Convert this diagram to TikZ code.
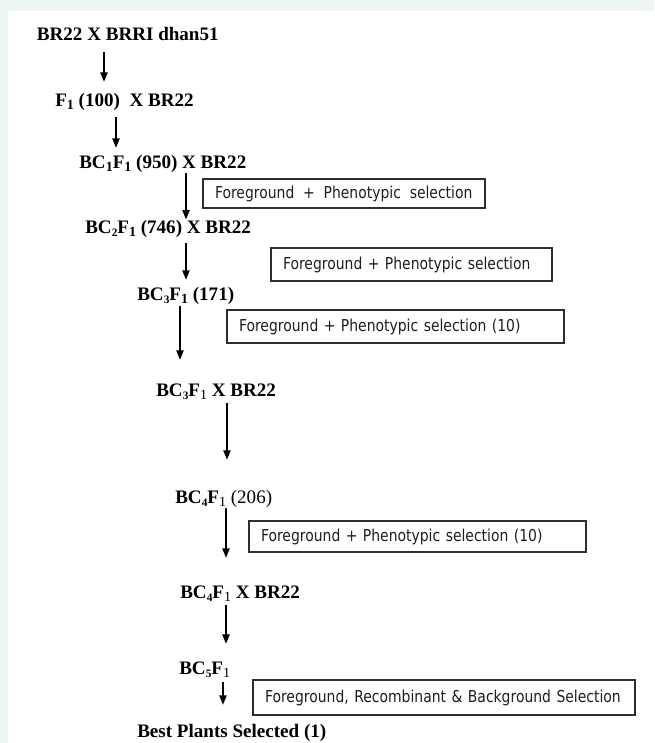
\documentclass[tikz,border=0pt]{standalone}
\usepackage{fontspec}
\setmainfont{Liberation Serif}
\newfontfamily\boxfont[FakeStretch=0.85]{DejaVu Sans}
\usetikzlibrary{arrows.meta}
\definecolor{mint}{RGB}{238,246,243}
\definecolor{boxline}{RGB}{45,45,45}
\definecolor{boxtext}{RGB}{30,30,30}
\newcommand{\sbb}[1]{\raisebox{-0.35ex}{\fontsize{10.5}{10}\selectfont\bfseries #1}}
\newcommand{\sbs}[1]{\raisebox{-0.35ex}{\fontsize{8.5}{10}\selectfont\bfseries #1}}
\newcommand{\sbr}[1]{\raisebox{-0.35ex}{\fontsize{10.5}{10}\selectfont\mdseries #1}}
\begin{document}
\begin{tikzpicture}[x=0.75pt,y=-0.75pt,
  lab/.style={anchor=base west, inner sep=0pt, text height=10pt, text depth=3pt,
    font=\fontsize{14.3}{16}\selectfont\bfseries},
  selbox/.style={draw=boxline, line width=0.8pt, inner xsep=9pt, inner ysep=0pt,
    align=left, text=boxtext, font=\boxfont\fontsize{12.3}{14}\selectfont},
  arr/.style={-{Triangle[length=7pt,width=5.5pt]}, line width=0.9pt}]
\useasboundingbox (0,0) rectangle (654,743);
\fill[mint] (0,0) rectangle (654,743);
\fill[white] (8,11) rectangle (654,743);

% labels
\node[lab] (t1) at (36.7,40) {BR22 X BRRI dhan51};
\node[lab] (t2) at (55,106) {F\sbb{1} (100)\ \ X BR22};
\node[lab] (t3) at (79,168) {BC\sbb{1}F\sbb{1} (950) X BR22};
\node[lab] (t4) at (85,233) {BC\sbs{2}F\sbb{1} (746) X BR22};
\node[lab] (t5) at (137,300) {BC\sbs{3}F\sbb{1} (171)};
\node[lab] (t6) at (156,396) {BC\sbs{3}F\sbr{1} X BR22};
\node[lab] (t7) at (175,503) {BC\sbs{4}F\sbr{1} {\mdseries(206)}};
\node[lab] (t8) at (180,598) {BC\sbs{4}F\sbr{1} X BR22};
\node[lab] (t9) at (179,674) {BC\sbs{5}F\sbr{1}};
\node[lab] (t10) at (137,737) {Best Plants Selected (1)};

% selection boxes
\node[selbox, minimum width=211.5pt, minimum height=21.75pt, text width=193.5pt] (b1) at (344,193.5)
  {\mbox{Foreground \hspace{2.5pt}+ \hspace{2.5pt}Phenotypic \hspace{2.5pt}selection}};
\node[selbox, minimum width=210.75pt, minimum height=24.75pt, text width=192.75pt] (b2) at (411.5,264.5)
  {\mbox{Foreground + Phenotypic selection}};
\node[selbox, minimum width=252.75pt, minimum height=24.75pt, text width=234.75pt] (b3) at (395.5,326.5)
  {\mbox{Foreground + Phenotypic selection (10)}};
\node[selbox, minimum width=252.75pt, minimum height=23.25pt, text width=234.75pt] (b4) at (417.5,536.5)
  {\mbox{Foreground + Phenotypic selection (10)}};
\node[selbox, minimum width=286.5pt, minimum height=26.25pt, text width=268.5pt] (b5) at (444,697.5)
  {\mbox{Foreground, Recombinant \& Background Selection}};

% arrow columns
\coordinate (x1) at (104,0);
\coordinate (x2) at (116,0);
\coordinate (x3) at (186,0);
\coordinate (x4) at (186,0);
\coordinate (x5) at (180,0);
\coordinate (x6) at (227,0);
\coordinate (x7) at (226,0);
\coordinate (x8) at (226,0);
\coordinate (x9) at (223,0);

\draw[arr, shorten <=6pt, shorten >=8pt] (t1.south -| x1) -- (t2.north -| x1);
\draw[arr, shorten <=5.25pt, shorten >=5pt] (t2.south -| x2) -- (t3.north -| x2);
\draw[arr, shorten <=0.75pt, shorten >=0pt] (t3.south -| x3) -- (t4.north -| x3);
\draw[arr, shorten <=4.5pt, shorten >=5pt] (t4.south -| x4) -- (t5.north -| x4);
\draw[arr, shorten <=1.5pt, shorten >=17pt] (t5.south -| x5) -- (t6.north -| x5);
\draw[arr, shorten <=2.25pt, shorten >=22.3pt] (t6.south -| x6) -- (t7.north -| x6);
\draw[arr, shorten <=0.75pt, shorten >=20pt] (t7.south -| x7) -- (t8.north -| x7);
\draw[arr, shorten <=2.25pt, shorten >=12.5pt] (t8.south -| x8) -- (t9.north -| x8);
\draw[arr, shorten <=3pt, shorten >=14pt] (t9.south -| x9) -- (t10.north -| x9);
\end{tikzpicture}
\end{document}
